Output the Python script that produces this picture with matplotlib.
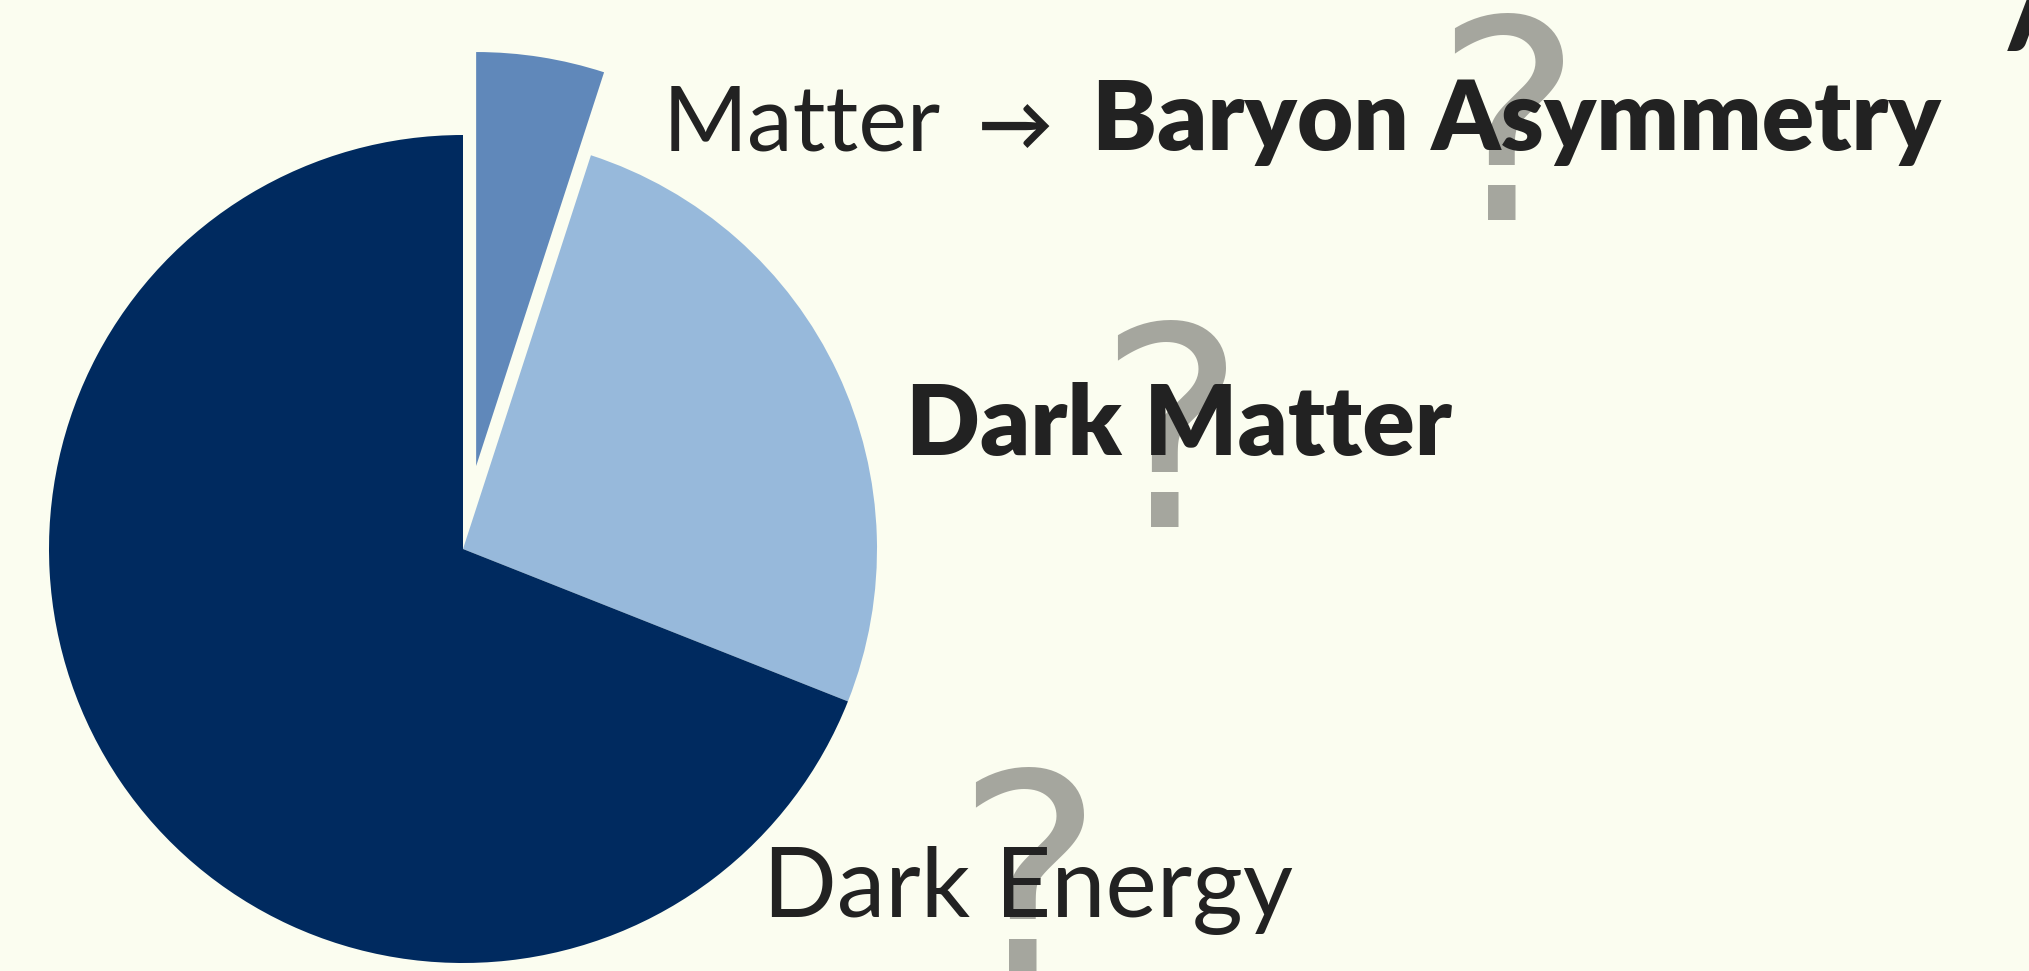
import matplotlib.pyplot as plt

# composition of the universe (percent), clockwise from 12 o'clock
components = ['Matter', 'Dark Matter', 'Dark Energy']
shares = [5.0, 26.0, 69.0]
colors = ['#6088ba', '#97b9db', '#002a5f']

bg = '#fbfdf0'
ink = '#222222'
qgray = '#a5a69e'

W, H = 2029, 971
fig = plt.figure(figsize=(W / 100, H / 100), dpi=100, facecolor=bg)
ax = fig.add_axes([0, 0, 1, 1])
ax.set_facecolor(bg)

R = 414
ax.pie(shares, colors=colors, startangle=90, counterclock=False,
       radius=R, center=(463, 422), explode=[84, 0, 0],
       wedgeprops=dict(linewidth=0), frame=True)
ax.set_xlim(0, W)
ax.set_ylim(0, H)
ax.set_aspect('equal')
ax.axis('off')

fam = ['Lato', 'DejaVu Sans']

# big grey question marks behind the labels
for x, y in [(1508, 751), (1171, 444), (1029, -3)]:
    ax.text(x, y, '?', fontsize=200, fontweight='normal', color=qgray,
            family='DejaVu Sans', ha='center', va='baseline', zorder=3)

ax.text(663, 821, 'Matter', fontsize=66, fontweight='normal', color=ink,
        family=fam, va='baseline', zorder=4)
ax.text(978, 821, '→', fontsize=54, fontweight='bold', color=ink,
        family=fam, va='baseline', zorder=4)
ax.text(1092, 821, 'Baryon Asymmetry', fontsize=70, fontweight='heavy',
        color=ink, family=fam, va='baseline', zorder=4)
ax.text(906, 516, 'Dark Matter', fontsize=70, fontweight='heavy', color=ink,
        family=fam, va='baseline', zorder=4)
ax.text(763, 54, 'Dark Energy', fontsize=70, fontweight='normal', color=ink,
        family=fam, va='baseline', zorder=4)

# stray dark mark at the top right corner
ax.text(2004, 926, '/', fontsize=90, fontweight='heavy', color=ink,
        family=fam, va='baseline', ha='left', zorder=4)

fig.savefig('out.png', dpi=100, facecolor=bg)
